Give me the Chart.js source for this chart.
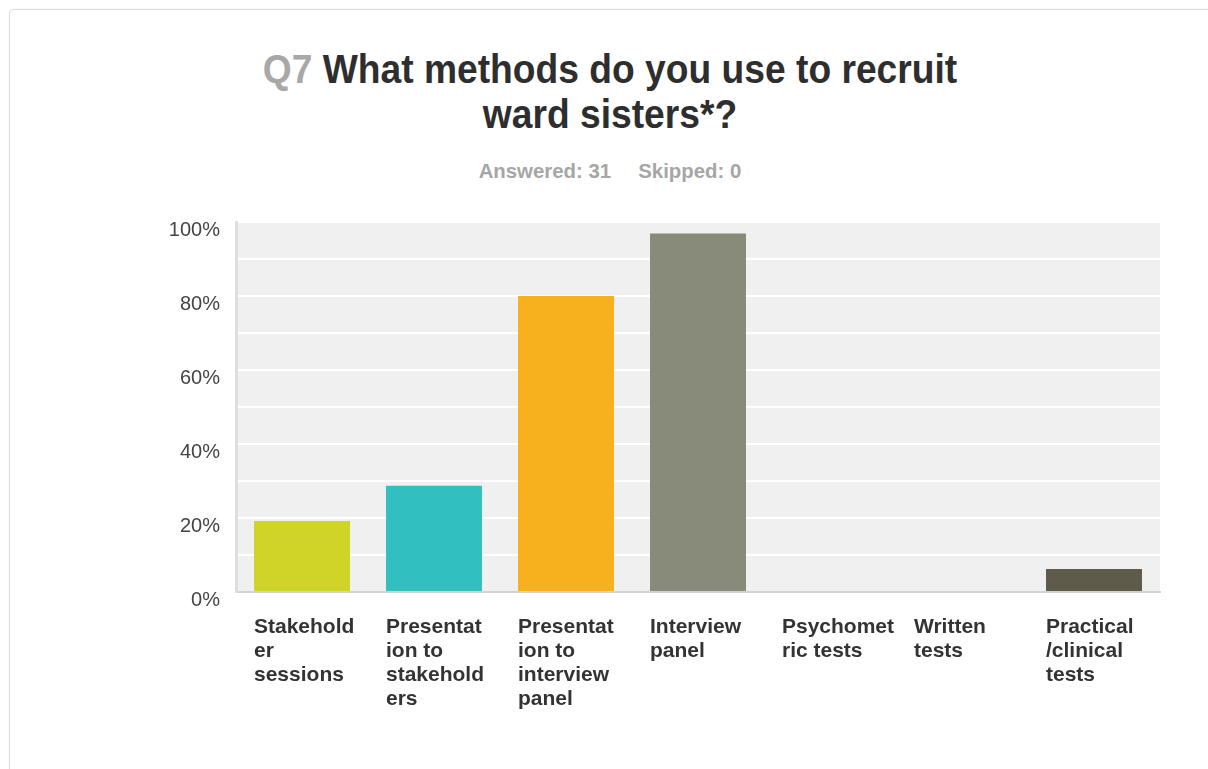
<!DOCTYPE html>
<html>
<head>
<meta charset="utf-8">
<script src="https://cdn.jsdelivr.net/npm/chart.js@4.4.1/dist/chart.umd.min.js"></script>
<style>
  html, body { margin: 0; padding: 0; background: #fff; }
  body { width: 1208px; height: 769px; position: relative; overflow: hidden; font-family: "Liberation Sans", Arial, sans-serif; }
  .card { position: absolute; left: 9px; top: 9px; width: 1210px; height: 800px; border: 1px solid #dcdcdc; border-radius: 5px; box-shadow: 0 0 2px rgba(0,0,0,0.08); background: #fff; }
  .titulo { position: absolute; left: 0; width: 1220px; top: 47px; text-align: center; font-weight: bold; font-size: 40px; line-height: 45px; color: #2e2e2e; transform: scaleX(0.93); transform-origin: 610px 0; }
  .titulo .q { color: #a8a8a8; }
  .resumo { position: absolute; left: 0; width: 1220px; top: 159px; text-align: center; font-weight: bold; font-size: 21px; color: #a6a6a6; transform: scaleX(0.97); transform-origin: 609px 0; }
  .resumo span { margin: 0 14px; }
  #grafico { position: absolute; left: 0; top: 0; }
</style>
</head>
<body>
<div class="card"></div>
<div class="titulo"><span class="q">Q7</span> What methods do you use to recruit<br>ward sisters*?</div>
<div class="resumo"><span>Answered: 31</span><span>Skipped: 0</span></div>
<canvas id="grafico" width="1208" height="769"></canvas>
<script>
// Categorias (quebradas em linhas como no original)
let categorias = [
    ['Stakehold', 'er', 'sessions'],
    ['Presentat', 'ion to', 'stakehold', 'ers'],
    ['Presentat', 'ion to', 'interview', 'panel'],
    ['Interview', 'panel'],
    ['Psychomet', 'ric tests'],
    ['Written', 'tests'],
    ['Practical', '/clinical', 'tests']
];
// Percentual de respostas
let valores = [19.2, 28.7, 80.0, 96.9, 0, 0, 6.2];
let cores = ['#d0d427', '#32bfc0', '#f7b01e', '#898b7a', '#a0a0a0', '#a0a0a0', '#5e5b4a'];
let ticksY = [0, 20, 40, 60, 80, 100];

const fundoPlot = {
    id: 'fundoPlot',
    beforeDraw(chart) {
        const a = chart.chartArea;
        const ctx = chart.ctx;
        ctx.save();
        ctx.fillStyle = '#f0f0f0';
        ctx.fillRect(a.left, a.top, a.right - a.left, a.bottom - a.top);
        ctx.restore();
    }
};

let ctx = document.getElementById('grafico');

new Chart(ctx, {
    type: 'bar',
    data: {
        labels: categorias,
        datasets: [{
            data: valores,
            backgroundColor: cores,
            borderWidth: 0,
            barPercentage: 0.727,
            categoryPercentage: 1
        }]
    },
    options: {
        responsive: false,
        animation: false,
        devicePixelRatio: 1,
        layout: { padding: { top: 222, right: 48, left: 0, bottom: 0 } },
        plugins: {
            legend: { display: false },
            title: { display: false },
            tooltip: { enabled: false }
        },
        scales: {
            x: {
                grid: { display: false, drawTicks: false },
                border: { color: '#d2d2d2', width: 2 },
                ticks: {
                    autoSkip: false,
                    maxRotation: 0,
                    align: 'start',
                    labelOffset: -48,
                    padding: 23,
                    color: '#333',
                    font: { family: '"Liberation Sans", Arial, sans-serif', size: 21, weight: 'bold', lineHeight: 24 / 21 }
                },
                afterFit: function(s) { s.height = 177; }
            },
            y: {
                min: 0,
                max: 100,
                grid: { color: '#ffffff', lineWidth: 2, drawTicks: false },
                border: { color: '#dedede', width: 3 },
                ticks: {
                    stepSize: 10,
                    padding: 16,
                    labelOffset: 8,
                    color: '#444',
                    font: { family: '"Liberation Sans", Arial, sans-serif', size: 20 },
                    callback: function(v) { return ticksY.includes(v) ? v + '%' : ''; }
                },
                afterFit: function(s) { s.width = 236; }
            }
        }
    },
    plugins: [fundoPlot]
});
</script>
</body>
</html>
